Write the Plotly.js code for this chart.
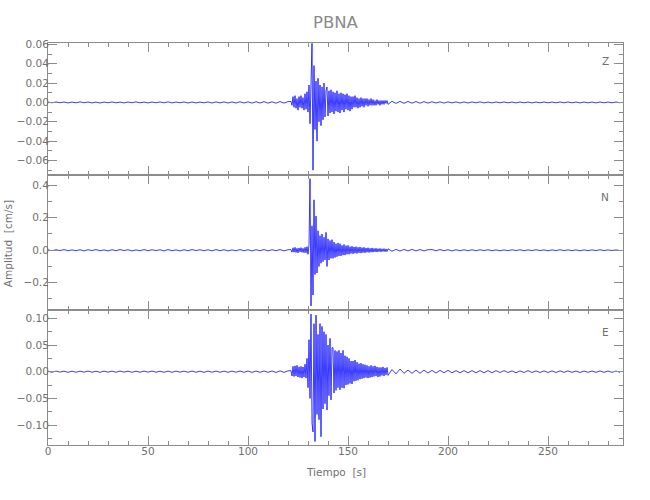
<!DOCTYPE html>
<html>
<head>
<meta charset="utf-8">
<script src="https://cdn.plot.ly/plotly-3.0.1.min.js"></script>
<style>html,body{margin:0;padding:0;background:#fff;}#chart{width:650px;height:500px;}</style>
</head>
<body>
<div id="chart"></div>
<script>
// Sampling of the three segments (seconds): pre-event noise, event, coda
const stepA = 2, startA = 0;
const stepB = 0.5, startB = 121.5;
const stepC = 2;

const channels = ["Z", "N", "E"];
const stationName = "PBNA";
const xTickVals = [0, 50, 100, 150, 200, 250];

// ---- Z component (cm/s) ----
const zNoise = [0.0003,-0.0004,0.0005,-0.0003,0.0004,-0.0005,0.0003,-0.0004,0.0006,-0.0003,
0.0004,-0.0005,0.0003,-0.0006,0.0004,-0.0003,0.0005,-0.0004,0.0003,-0.0005,
0.0004,-0.0003,0.0006,-0.0004,0.0003,-0.0005,0.0004,-0.0003,0.0005,-0.0004,
0.0006,-0.0005,0.0004,-0.0003,0.0005,-0.0006,0.0004,-0.0005,0.0003,-0.0004,
0.0005,-0.0006,0.0006,-0.0005,0.0006,-0.0006,0.0005,-0.0006,0.0007,-0.0006,
0.0006,-0.0007,0.0007,-0.0006,0.0008,-0.0007,0.0006,-0.0008,0.0009,-0.0007,0.0008];
const zEvent = [0.001,-0.003,
0.006,-0.005,0.007,-0.006,0.004,-0.008,0.006,-0.005,
0.007,-0.006,0.005,-0.008,0.009,-0.007,0.011,-0.010,
0.018,-0.022,0.030,0.061,-0.070,0.038,-0.028,0.022,
-0.040,0.025,-0.020,0.018,-0.024,0.016,-0.018,0.020,
-0.015,0.012,0.016,-0.014,0.012,-0.011,0.013,-0.010,
0.011,-0.012,0.010,-0.009,0.012,-0.010,0.009,-0.011,
0.010,-0.008,0.009,-0.010,0.008,-0.007,0.009,-0.008,
0.007,-0.009,0.006,-0.007,0.006,-0.005,0.007,-0.005,
0.005,-0.006,0.004,-0.005,0.005,-0.004,0.004,-0.005,
0.004,-0.003,0.004,-0.004,0.003,-0.003,0.004,-0.003,
0.003,-0.003,0.002,-0.003,0.003,-0.002,0.002,-0.003,
0.002,-0.002,0.002,-0.002,0.002,-0.001,0.002,-0.002];
const zCoda = [0.0012,-0.0010,0.0011,-0.0009,0.0010,-0.0008,0.0009,-0.0008,0.0008,-0.0007,
0.0007,-0.0006,0.0006,-0.0007,0.0006,-0.0005,0.0006,-0.0006,0.0005,-0.0006,
0.0005,-0.0004,0.0006,-0.0005,0.0004,-0.0005,0.0005,-0.0004,0.0005,-0.0004,
0.0004,-0.0005,0.0005,-0.0004,0.0004,-0.0005,0.0004,-0.0004,0.0005,-0.0004,
0.0004,-0.0004,0.0005,-0.0004,0.0005,-0.0004,0.0004,-0.0005,0.0004,-0.0004,
0.0004,-0.0005,0.0005,-0.0004,0.0004,-0.0004,0.0005,-0.0004];

// ---- N component (cm/s) ----
const nNoise = [0.002,-0.003,0.003,-0.002,0.004,-0.003,0.002,-0.003,0.003,-0.004,
0.003,-0.002,0.004,-0.003,0.002,-0.004,0.003,-0.003,0.004,-0.002,
0.003,-0.004,0.002,-0.003,0.004,-0.003,0.003,-0.002,0.003,-0.004,
0.004,-0.003,0.002,-0.004,0.003,-0.003,0.004,-0.002,0.003,-0.003,
0.003,-0.004,0.004,-0.003,0.003,-0.004,0.002,-0.003,0.004,-0.003,
0.003,-0.004,0.003,-0.003,0.004,-0.004,0.003,-0.003,0.004,-0.004,0.003];
const nEvent = [0.004,-0.012,
0.015,-0.012,0.018,-0.014,0.012,-0.016,0.014,-0.010,
0.016,-0.013,0.012,-0.015,0.018,-0.016,0.022,-0.025,
0.035,0.44,-0.343,0.15,-0.276,0.31,-0.15,0.21,
-0.14,0.12,-0.10,0.09,-0.08,0.10,-0.07,0.08,
-0.06,0.11,-0.10,0.07,-0.06,0.06,-0.05,0.065,
-0.05,0.05,-0.045,0.04,-0.04,0.045,-0.035,0.04,
-0.035,0.03,-0.03,0.035,-0.03,0.028,-0.025,0.03,
-0.025,0.022,-0.02,0.025,-0.022,0.02,-0.018,0.022,
-0.02,0.018,-0.016,0.02,-0.018,0.016,-0.015,0.018,
-0.016,0.014,-0.013,0.015,-0.014,0.012,-0.012,0.014,
-0.012,0.011,-0.01,0.012,-0.011,0.01,-0.009,0.011,
-0.01,0.009,-0.008,0.01,-0.009,0.008,-0.008,0.009];
const nCoda = [-0.006,0.005,-0.005,0.005,-0.004,0.005,-0.004,0.004,-0.004,0.003,
0.004,-0.003,0.004,-0.003,0.003,-0.004,0.003,-0.003,0.003,-0.003,
0.003,-0.003,0.003,-0.002,0.003,-0.003,0.002,-0.003,0.002,-0.003,
0.003,-0.002,0.003,-0.003,0.002,-0.002,0.003,-0.002,0.002,-0.003,
0.002,-0.002,0.003,-0.002,0.002,-0.002,0.002,-0.003,0.002,-0.002,
0.002,-0.002,0.003,-0.002,0.002,-0.002,0.002,-0.002];

// ---- E component (cm/s) ----
const eNoise = [0.0008,-0.0010,0.0012,-0.0008,0.0010,-0.0012,0.0009,-0.0011,0.0010,-0.0009,
0.0012,-0.0010,0.0008,-0.0012,0.0011,-0.0009,0.0010,-0.0011,0.0012,-0.0008,
0.0010,-0.0012,0.0009,-0.0010,0.0011,-0.0009,0.0012,-0.0010,0.0008,-0.0011,
0.0010,-0.0012,0.0011,-0.0009,0.0010,-0.0011,0.0012,-0.0010,0.0009,-0.0012,
0.0011,-0.0010,0.0012,-0.0011,0.0010,-0.0012,0.0011,-0.0010,0.0013,-0.0012,
0.0012,-0.0013,0.0011,-0.0012,0.0014,-0.0012,0.0013,-0.0014,0.0015,-0.0013,0.0016];
const eEvent = [0.002,-0.008,
0.010,-0.009,0.011,-0.008,0.012,-0.010,0.009,-0.011,
0.010,-0.012,0.009,-0.010,0.014,-0.012,0.025,-0.030,
0.060,-0.050,0.108,-0.097,-0.113,0.090,-0.131,0.106,
-0.080,0.070,-0.090,0.090,-0.122,0.085,-0.070,0.075,
-0.060,0.070,-0.072,0.050,-0.045,0.0625,-0.053,0.045,
0.045,-0.040,0.040,-0.035,0.038,-0.030,0.040,-0.034,
0.035,-0.030,0.040,-0.031,0.030,-0.025,0.028,-0.024,
0.025,-0.022,0.020,-0.023,0.020,-0.018,0.022,-0.017,
0.018,-0.016,0.015,-0.014,0.016,-0.013,0.014,-0.012,
0.013,-0.011,0.012,-0.012,0.010,-0.011,0.012,-0.010,
0.010,-0.009,0.011,-0.008,0.009,-0.010,0.008,-0.009,
0.008,-0.007,0.009,-0.008,0.007,-0.006,0.008,-0.007];
const eCoda = [0.004,-0.004,0.005,-0.003,0.003,-0.003,0.003,-0.003,0.003,-0.0025,
0.0025,-0.0025,0.0025,-0.002,0.0025,-0.002,0.002,-0.002,0.002,-0.002,
0.002,-0.002,0.002,-0.002,0.002,-0.002,0.002,-0.0015,0.002,-0.0015,
0.0015,-0.002,0.0015,-0.0015,0.002,-0.0015,0.0015,-0.0015,0.0015,-0.0015,
0.0015,-0.0015,0.0015,-0.0012,0.0015,-0.0012,0.0012,-0.0015,0.0012,-0.0012,
0.0012,-0.0012,0.0015,-0.0012,0.0012,-0.0012,0.0012,-0.0012];

function buildTimes(nA, nB, nC) {
  const t = [];
  for (let i = 0; i < nA; i++) t.push(startA + i * stepA);
  for (let i = 0; i < nB; i++) t.push(startB + i * stepB);
  const endB = startB + (nB - 1) * stepB;
  for (let i = 0; i < nC; i++) t.push(endB + (i + 1) * stepC);
  return t;
}

const series = [
  [zNoise, zEvent, zCoda],
  [nNoise, nEvent, nCoda],
  [eNoise, eEvent, eCoda]
];

const lineColor = "rgb(10,10,255)";
const traces = series.map((s, k) => ({
  type: "scatter", mode: "lines",
  x: buildTimes(s[0].length, s[1].length, s[2].length),
  y: s[0].concat(s[1], s[2]),
  xaxis: k === 0 ? "x" : "x" + (k + 1),
  yaxis: k === 0 ? "y" : "y" + (k + 1),
  line: {color: lineColor, width: 0.8},
  hoverinfo: "skip", showlegend: false
}));

const fontFam = "'DejaVu Sans', sans-serif";
const gray = "#707070";
const axisGray = "#8c8c8c";

function xAxis(anchor, showLabels) {
  return {
    anchor: anchor, range: [0, 287.5], tickvals: xTickVals,
    ticks: "inside", ticklen: 9, tickcolor: axisGray, tickwidth: 1,
    minor: {dtick: 10, tick0: 0, ticks: "inside", ticklen: 4, tickcolor: axisGray},
    showline: true, linecolor: axisGray, linewidth: 1, mirror: "ticks",
    showgrid: false, zeroline: false, showticklabels: showLabels,
    tickfont: {family: fontFam, size: 10.5, color: gray},
    ticklabelstandoff: -4
  };
}
function yAxis(anchor, domain, range, dtick, minorDtick, fmt) {
  return {
    anchor: anchor, domain: domain, range: range, dtick: dtick, tick0: 0,
    tickformat: fmt,
    ticks: "inside", ticklen: 9, tickcolor: axisGray, tickwidth: 1,
    minor: {dtick: minorDtick, tick0: 0, ticks: "inside", ticklen: 4, tickcolor: axisGray},
    showline: true, linecolor: axisGray, linewidth: 1, mirror: "ticks",
    showgrid: false, zeroline: false,
    tickfont: {family: fontFam, size: 10.5, color: gray},
    ticklabelstandoff: -4
  };
}

const labelFont = {family: fontFam, size: 10.5, color: gray};
const layout = {
  width: 650, height: 500,
  margin: {l: 48, r: 27, t: 43, b: 55},
  paper_bgcolor: "#fff", plot_bgcolor: "#fff",
  title: {text: stationName, x: 0.516, xanchor: "center", y: 0.956, yanchor: "middle",
          font: {family: fontFam, size: 16.5, color: "#8a8a8a"}},
  xaxis: xAxis("y", false),
  xaxis2: xAxis("y2", false),
  xaxis3: xAxis("y3", true),
  yaxis: yAxis("x", [0.6704, 1], [-0.0755, 0.0614], 0.02, 0.01, ".2f"),
  yaxis2: yAxis("x2", [0.3358, 0.6704], [-0.368, 0.46], 0.2, 0.1, ".1f"),
  yaxis3: yAxis("x3", [0, 0.3358], [-0.1375, 0.1157], 0.05, 0.025, ".2f"),
  annotations: [
    {text: channels[0], xref: "paper", yref: "paper", x: 0.969, y: 0.955,
     xanchor: "center", yanchor: "middle", showarrow: false, font: labelFont},
    {text: channels[1], xref: "paper", yref: "paper", x: 0.969, y: 0.617,
     xanchor: "center", yanchor: "middle", showarrow: false, font: labelFont},
    {text: channels[2], xref: "paper", yref: "paper", x: 0.969, y: 0.281,
     xanchor: "center", yanchor: "middle", showarrow: false, font: labelFont},
    {text: "Amplitud\u00a0 [cm/s]", xref: "paper", yref: "paper", x: -0.0696, y: 0.502, textangle: -90,
     xanchor: "center", yanchor: "middle", showarrow: false, font: labelFont},
    {text: "Tiempo\u00a0 [s]", xref: "paper", yref: "paper", x: 0.5, y: -0.067,
     xanchor: "center", yanchor: "middle", showarrow: false, font: labelFont}
  ]
};

Plotly.newPlot("chart", traces, layout, {displayModeBar: false, staticPlot: true});
</script>
</body>
</html>
